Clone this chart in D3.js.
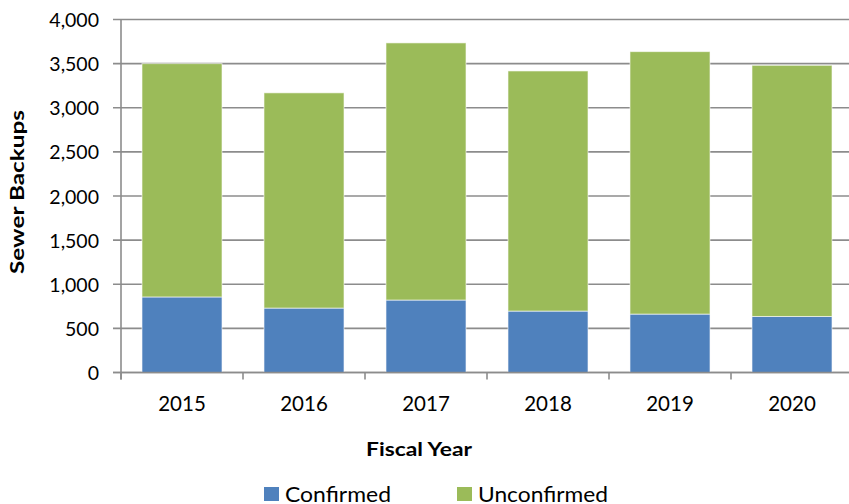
<!DOCTYPE html>
<html>
<head>
<meta charset="utf-8">
<script src="https://cdn.jsdelivr.net/npm/d3@7"></script>
<style>
  body { margin: 0; background: #fff; }
  text { font-family: Lato, "Open Sans", sans-serif; fill: #000; }
</style>
</head>
<body>
<svg id="chart"></svg>
<script>
// ---- DATA ---- //
const years = ["2015", "2016", "2017", "2018", "2019", "2020"];
const confirmed = [856, 730, 821, 696, 662, 635];
const unconfirmed = [2644, 2439, 2914, 2721, 2974, 2846];
const yTicks = [0, 500, 1000, 1500, 2000, 2500, 3000, 3500, 4000];
const seriesNames = ["Confirmed", "Unconfirmed"];
const colors = ["#4f81bd", "#9bbb59"];

// ---- THE CHART ---- //
const W = 849, H = 504;
const plot = {left: 121, right: 853, top: 19.5, bottom: 372.5};

const svg = d3.select("#chart")
  .attr("width", W)
  .attr("height", H);

const xScale = d3.scaleBand()
  .domain(years)
  .range([plot.left, plot.right])
  .paddingInner(0.344)
  .paddingOuter(0.172);

const yScale = d3.scaleLinear()
  .domain([0, 4000])
  .range([plot.bottom, plot.top]);

// gridlines
svg.append("g")
  .selectAll("line")
  .data(yTicks)
  .enter().append("line")
    .attr("x1", plot.left - 8)
    .attr("x2", plot.right)
    .attr("y1", d => yScale(d))
    .attr("y2", d => yScale(d))
    .style("stroke", "#8c8c8c")
    .style("stroke-width", 1.6);

// stacked bars
const rows = years.map((y, i) => ({year: y, Confirmed: confirmed[i], Unconfirmed: unconfirmed[i]}));
const stack = d3.stack().keys(seriesNames)(rows);

svg.append("g")
  .selectAll("g")
  .data(stack)
  .enter().append("g")
    .attr("fill", (d, i) => colors[i])
  .selectAll("rect")
  .data(d => d)
  .enter().append("rect")
    .attr("x", d => xScale(d.data.year))
    .attr("width", xScale.bandwidth())
    .attr("y", d => yScale(d[1]))
    .attr("height", d => yScale(d[0]) - yScale(d[1]))
    .style("stroke", "#ffffff")
    .style("stroke-opacity", 0.6)
    .style("stroke-width", 1);

// y axis
const yAxis = d3.axisLeft(yScale)
  .tickValues(yTicks)
  .tickFormat(d3.format(","))
  .tickSize(0)
  .tickPadding(22);
const yAxisG = svg.append("g")
  .attr("transform", "translate(" + plot.left + ",0)")
  .call(yAxis);
yAxisG.select(".domain").remove();
yAxisG.selectAll("text")
  .style("font-size", "19.5px")
  .attr("dy", "0.36em");

svg.append("line")
  .attr("x1", plot.left).attr("x2", plot.left)
  .attr("y1", plot.top).attr("y2", plot.bottom + 7)
  .style("stroke", "#8c8c8c")
  .style("stroke-width", 1.6);

// x axis
const xAxis = d3.axisBottom(xScale)
  .tickSize(0)
  .tickPadding(24);
const xAxisG = svg.append("g")
  .attr("transform", "translate(0," + plot.bottom + ")")
  .call(xAxis);
xAxisG.select(".domain").remove();
xAxisG.selectAll("text")
  .style("font-size", "20.5px");

svg.append("line")
  .attr("x1", plot.left - 8).attr("x2", plot.right)
  .attr("y1", plot.bottom).attr("y2", plot.bottom)
  .style("stroke", "#8c8c8c")
  .style("stroke-width", 1.6);

// category boundary ticks
svg.append("g")
  .selectAll("line")
  .data(years)
  .enter().append("line")
    .attr("x1", d => xScale(d) - xScale.step() * 0.172)
    .attr("x2", d => xScale(d) - xScale.step() * 0.172)
    .attr("y1", plot.bottom)
    .attr("y2", plot.bottom + 7)
    .style("stroke", "#8c8c8c")
    .style("stroke-width", 1.6);

// axis titles
svg.append("text")
  .attr("transform", "translate(24,192) rotate(-90)")
  .attr("text-anchor", "middle")
  .attr("textLength", 164)
  .attr("lengthAdjust", "spacingAndGlyphs")
  .style("font-size", "18.5px")
  .style("font-weight", "bold")
  .text("Sewer Backups");

svg.append("text")
  .attr("x", 419)
  .attr("y", 456)
  .attr("text-anchor", "middle")
  .attr("textLength", 106)
  .attr("lengthAdjust", "spacingAndGlyphs")
  .style("font-size", "18.5px")
  .style("font-weight", "bold")
  .text("Fiscal Year");

// ---- LEGEND ---- //
const legendX = [264, 457];
const legendW = [106, 130];
const legend = svg.append("g")
  .selectAll("g")
  .data(seriesNames)
  .enter().append("g")
    .attr("transform", (d, i) => "translate(" + legendX[i] + ",487)");
legend.append("rect")
  .attr("width", 15)
  .attr("height", 14)
  .attr("fill", (d, i) => colors[i]);
legend.append("text")
  .attr("x", 21)
  .attr("y", 14.5)
  .attr("textLength", (d, i) => legendW[i])
  .attr("lengthAdjust", "spacingAndGlyphs")
  .style("font-size", "20.5px")
  .text(d => d);
</script>
</body>
</html>
